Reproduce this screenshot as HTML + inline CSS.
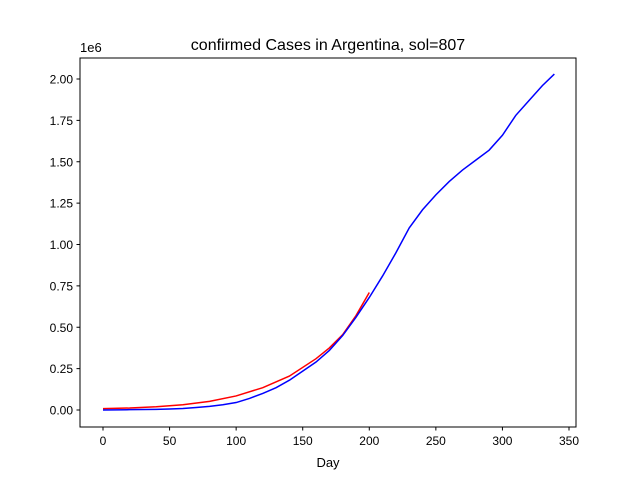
<!DOCTYPE html>
<html><head><meta charset="utf-8"><style>
body{margin:0;background:#fff}
text{font-family:"Liberation Sans","DejaVu Sans",sans-serif;fill:#000}
</style></head><body>
<svg id="chart" width="640" height="480" viewBox="0 0 640 480">
<rect width="640" height="480" fill="#fff"/>
<text x="328" y="50" font-size="16" text-anchor="middle">confirmed Cases in Argentina, sol=807</text>
<g id="plot"></g>
<rect x="80" y="58" width="496" height="369" fill="none" stroke="#000" stroke-width="1"/>
<text x="80" y="52" font-size="13">1e6</text>
<text x="328" y="467" font-size="13" text-anchor="middle">Day</text>
</svg>
<script>
const blueDays=[0,10,20,30,40,50,60,70,80,90,100,110,120,130,140,150,160,170,180,190,200,210,220,230,240,250,260,270,280,290,300,310,320,330,339];
const blueVals=[0,0.001,0.002,0.003,0.004,0.006,0.009,0.015,0.022,0.032,0.045,0.07,0.1,0.135,0.18,0.235,0.29,0.36,0.45,0.56,0.68,0.81,0.95,1.10,1.21,1.30,1.38,1.45,1.51,1.57,1.66,1.78,1.87,1.96,2.03];
const redDays=[0,20,40,60,80,100,120,140,160,170,180,190,200];
const redVals=[0.008,0.012,0.02,0.032,0.052,0.085,0.135,0.205,0.31,0.375,0.455,0.57,0.71];
const xTicks=[0,50,100,150,200,250,300,350];
const yTicks=[0,0.25,0.5,0.75,1.0,1.25,1.5,1.75,2.0];
const yTickLabels=["0.00","0.25","0.50","0.75","1.00","1.25","1.50","1.75","2.00"];
const NS="http://www.w3.org/2000/svg";
const sx=d=>103+d*466/350;
const sy=v=>410-v*165.5;
const g=document.getElementById('plot');
function mk(t,a){const e=document.createElementNS(NS,t);for(const k in a)e.setAttribute(k,a[k]);g.appendChild(e);return e;}
xTicks.forEach(t=>{
  const l=mk('line',{x1:sx(t),x2:sx(t),y1:427,y2:430.5,stroke:'#000'});
  
  
  const tx=mk('text',{x:sx(t),y:445,'font-size':12,'text-anchor':'middle'});tx.textContent=t;
  
  
});
yTicks.forEach((t,i)=>{
  const l=mk('line',{x1:76.5,x2:80,y1:sy(t),y2:sy(t),stroke:'#000'});
  
  
  const tx=mk('text',{x:73,y:sy(t)+4.5,'font-size':12,'text-anchor':'end'});tx.textContent=yTickLabels[i];
  
  
});
const red=mk('polyline',{points:redDays.map((d,i)=>sx(d)+','+sy(redVals[i])).join(' '),fill:'none',stroke:'#ff0000','stroke-width':1.5});


const blue=mk('polyline',{points:blueDays.map((d,i)=>sx(d)+','+sy(blueVals[i])).join(' '),fill:'none',stroke:'#0000ff','stroke-width':1.5});


</script>
</body></html>
